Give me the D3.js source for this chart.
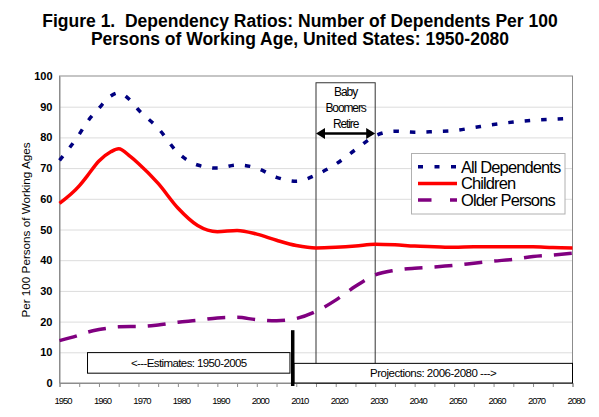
<!DOCTYPE html>
<html>
<head>
<meta charset="utf-8">
<script src="https://cdn.jsdelivr.net/npm/d3@7"></script>
<style>
    body { margin: 0; background: #fff; }
    svg { display: block; font-family: "Liberation Sans", Arial, sans-serif; }
    .title { white-space: pre; }
</style>
</head>
<body>
<svg id="chart" width="599" height="417"></svg>
<script>
// Years (every 5 years, plus the peak years)
var years = [1950, 1955, 1957, 1960, 1963, 1965, 1968, 1970, 1975, 1980, 1985, 1990, 1995, 2000, 2005,
             2010, 2015, 2020, 2025, 2030, 2035, 2040, 2045, 2050, 2055, 2060, 2065, 2070, 2075, 2080];

var allDependents = [72.5, 81, 85, 89.5, 93.5, 94.5, 92, 89, 83, 75, 71, 70, 71, 70, 67,
                     65.7, 67.8, 71.3, 76, 80.5, 82, 81.7, 81.9, 82.2, 83.2, 84.2, 85, 85.6, 85.9, 86.2];

var children = [58.5, 64.2, 67.4, 72.3, 75.3, 76.3, 73.7, 71.5, 65, 57, 51.3, 49.3, 49.7, 48.5, 46.5,
                44.8, 44, 44.2, 44.6, 45.2, 45, 44.6, 44.4, 44.2, 44.4, 44.4, 44.4, 44.4, 44.1, 44];

var olderPersons = [13.8, 15.6, 16.5, 17.4, 18, 18.3, 18.4, 18.4, 18.9, 19.8, 20.4, 21.2, 21.4, 20.6, 20.3,
                    21, 23.3, 27, 31.5, 35.2, 36.7, 37.4, 37.8, 38.3, 39, 39.7, 40.3, 41.2, 41.7, 42.3];

var seriesNames = ["All Dependents", "Children", "Older Persons"];
var yTicks = [0, 10, 20, 30, 40, 50, 60, 70, 80, 90, 100];
var xTicks = d3.range(1950, 2081, 5);
var titleLines = ["Figure 1.  Dependency Ratios: Number of Dependents Per 100",
                  "Persons of Working Age, United States: 1950-2080"];

var svg = d3.select("#chart");

var x = d3.scaleLinear().domain([1950, 2080]).range([59.5, 572.5]);
var y = d3.scaleLinear().domain([0, 100]).range([383, 76]);

var styles = [
    { color: "#000080", dash: "5.5,11", legendDash: "5,11.5" },
    { color: "#ff0000", dash: null, legendDash: null },
    { color: "#800080", dash: "18,12", legendDash: "13.5,18.5" }
];
var seriesValues = [allDependents, children, olderPersons];

// Title
svg.append("g").selectAll("text")
    .data(titleLines)
    .enter().append("text")
    .attr("class", "title")
    .attr("x", 300)
    .attr("y", function(d, i) { return 26.5 + i * 18.4; })
    .attr("text-anchor", "middle")
    .attr("font-size", 17.5)
    .attr("font-weight", "bold")
    .attr("fill", "#000")
    .text(function(d) { return d; });

// Gridlines
svg.append("g").selectAll("line")
    .data(yTicks.slice(1, -1))
    .enter().append("line")
    .attr("x1", x(1950)).attr("x2", x(2080))
    .attr("y1", function(d) { return y(d) + 0.5; })
    .attr("y2", function(d) { return y(d) + 0.5; })
    .attr("stroke", "#dcdcdc")
    .attr("stroke-width", 1);

// Plot frame
svg.append("rect")
    .attr("x", x(1950)).attr("y", y(100))
    .attr("width", x(2080) - x(1950))
    .attr("height", y(0) - y(100))
    .attr("fill", "none")
    .attr("stroke", "#8c8c8c")
    .attr("stroke-width", 1);

// Y axis
var yAxis = svg.append("g")
    .attr("transform", "translate(" + x(1950) + ",0)")
    .call(d3.axisLeft(y).tickValues(yTicks).tickSize(0).tickPadding(7));
yAxis.select(".domain").attr("stroke", "#8c8c8c");
yAxis.selectAll("text")
    .attr("font-size", 11)
    .attr("font-weight", "bold")
    .attr("font-family", "Liberation Sans, Arial, sans-serif")
    .attr("fill", "#000");

// X axis: ticks every 5 years, labels every 10
var xAxis = svg.append("g")
    .attr("transform", "translate(0," + y(0) + ")")
    .call(d3.axisBottom(x).tickValues(xTicks).tickSize(4).tickPadding(10)
        .tickFormat(function(d) { return d % 10 === 0 ? String(d) : ""; }));
xAxis.select(".domain").attr("stroke", "#8c8c8c");
xAxis.selectAll(".tick line").attr("stroke", "#8c8c8c");
xAxis.selectAll("text")
    .attr("font-size", 9.5)
    .attr("letter-spacing", -1)
    .attr("dx", 3)
    .attr("font-family", "Liberation Sans, Arial, sans-serif")
    .attr("fill", "#000");

// Y axis title
svg.append("text")
    .attr("transform", "translate(29.5,230) rotate(-90)")
    .attr("text-anchor", "middle")
    .attr("font-size", 11.7)
    .attr("fill", "#000")
    .text("Per 100 Persons of Working Ages");

// Baby boomers box
svg.append("rect")
    .attr("x", x(2015)).attr("y", y(97.8))
    .attr("width", x(2030) - x(2015))
    .attr("height", y(0) - y(97.8))
    .attr("fill", "none")
    .attr("stroke", "#333")
    .attr("stroke-width", 1);

svg.append("g").selectAll("text")
    .data(["Baby", "Boomers", "Retire"])
    .enter().append("text")
    .attr("x", (x(2015) + x(2030)) / 2)
    .attr("y", function(d, i) { return 96 + i * 15.8; })
    .attr("text-anchor", "middle")
    .attr("font-size", 12)
    .attr("letter-spacing", -1.1)
    .attr("fill", "#000")
    .text(function(d) { return d; });

// Series lines
var line = d3.line()
    .x(function(d) { return x(d[0]); })
    .y(function(d) { return y(d[1]); })
    .curve(d3.curveMonotoneX);

seriesValues.forEach(function(vals, i) {
    var pts = years.map(function(yr, j) { return [yr, vals[j]]; });
    svg.append("path")
        .datum(pts)
        .attr("d", line)
        .attr("fill", "none")
        .attr("stroke", styles[i].color)
        .attr("stroke-width", 3.5)
        .attr("stroke-dasharray", styles[i].dash);
});

// Double arrow inside the baby boomers box
var arrowY = 133.5;
var ax0 = x(2015), ax1 = x(2030);
svg.append("line")
    .attr("x1", ax0 + 6).attr("x2", ax1 - 6)
    .attr("y1", arrowY).attr("y2", arrowY)
    .attr("stroke", "#000").attr("stroke-width", 2.5);
svg.append("path")
    .attr("d", "M" + ax0 + "," + arrowY + "l9,-5.5v11z" +
               "M" + ax1 + "," + arrowY + "l-9,-5.5v11z")
    .attr("fill", "#000");

// Estimates / projections boxes
var boxes = [
    { x0: 1957.1, x1: 2008.4, v0: 9.9, v1: 3.2, label: "<---Estimates: 1950-2005", ls: -0.6 },
    { x0: 2009.4, x1: 2080, v0: 6.4, v1: 0, label: "Projections: 2006-2080 --->", ls: -0.5 }
];
boxes.forEach(function(b) {
    svg.append("rect")
        .attr("x", x(b.x0)).attr("y", y(b.v0))
        .attr("width", x(b.x1) - x(b.x0))
        .attr("height", y(b.v1) - y(b.v0))
        .attr("fill", "#fff")
        .attr("stroke", "#000")
        .attr("stroke-width", 1);
    svg.append("text")
        .attr("x", (x(b.x0) + x(b.x1)) / 2)
        .attr("y", (y(b.v0) + y(b.v1)) / 2 + 4)
        .attr("text-anchor", "middle")
        .attr("font-size", 11.5)
        .attr("letter-spacing", b.ls)
        .attr("fill", "#000")
        .text(b.label);
});

// Thick divider between estimates and projections
svg.append("line")
    .attr("x1", x(2009.1)).attr("x2", x(2009.1))
    .attr("y1", y(17.2)).attr("y2", y(0) + 3)
    .attr("stroke", "#000")
    .attr("stroke-width", 3.5);

// Legend
var legend = svg.append("g").attr("transform", "translate(411.5,153.5)");
legend.append("rect")
    .attr("width", 153.5).attr("height", 60.5)
    .attr("fill", "#fff")
    .attr("stroke", "#b0b0b0")
    .attr("stroke-width", 1);
var rows = legend.selectAll("g.row")
    .data(seriesNames)
    .enter().append("g")
    .attr("class", "row")
    .attr("transform", function(d, i) { return "translate(0," + (13.2 + i * 16.7) + ")"; });
rows.append("line")
    .attr("x1", 6.5).attr("x2", 45.5)
    .attr("stroke", function(d, i) { return styles[i].color; })
    .attr("stroke-width", 3.5)
    .attr("stroke-dasharray", function(d, i) { return styles[i].legendDash; });
rows.append("text")
    .attr("x", 49.5)
    .attr("y", 5.8)
    .attr("font-size", 16.5)
    .attr("letter-spacing", -0.9)
    .attr("fill", "#000")
    .text(function(d) { return d; });
</script>
</body>
</html>
